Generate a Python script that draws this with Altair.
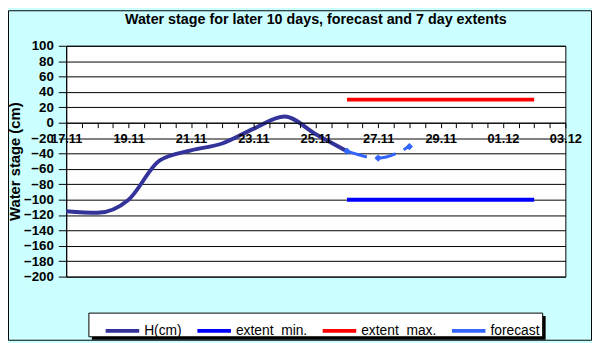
import json
import altair as alt
import pandas as pd

# ---- data ----
dates = ["17.11", "18.11", "19.11", "20.11", "21.11", "22.11", "23.11", "24.11",
         "25.11", "26.11", "27.11", "28.11", "29.11", "30.11", "01.12", "02.12", "03.12"]
h_days = ["17.11", "18.11", "19.11", "20.11", "21.11", "22.11", "23.11", "24.11", "25.11", "26.11"]
h_values = [-115, -117, -100, -49, -36, -27, -8, 8, -15, -37]
forecast_days = ["26.11", "27.11", "28.11"]
forecast_values = [-37, -46, -31]
extent_days = ["26.11", "27.11", "28.11", "29.11", "30.11", "01.12", "02.12"]
extent_min_values = [-100, -100, -100, -100, -100, -100, -100]
extent_max_values = [30, 30, 30, 30, 30, 30, 30]

series_names = ["H(cm)", "extent_min.", "extent_max.", "forecast"]
series_colors = ["#333399", "#0000ff", "#ff0000", "#3366ff"]
y_ticks = list(range(-200, 101, 20))
title_text = "Water stage for later 10 days, forecast and 7 day  extents"

FONT = "Liberation Sans"

rows = []
for d, v in zip(h_days, h_values):
    rows.append({"series": "H(cm)", "day": dates.index(d), "value": v})
for d, v in zip(extent_days, extent_min_values):
    rows.append({"series": "extent_min.", "day": dates.index(d), "value": v})
for d, v in zip(extent_days, extent_max_values):
    rows.append({"series": "extent_max.", "day": dates.index(d), "value": v})
main_df = pd.DataFrame(rows)
fc_df = pd.DataFrame({"series": "forecast",
                      "day": [dates.index(d) for d in forecast_days],
                      "value": forecast_values})

n_days = len(dates) - 1
x_tick_values = [i * 0.5 for i in range(2 * n_days + 1)]
label_expr = ("(datum.value % 2 == 0) ? " + json.dumps(dates) +
              "[datum.value] : ''")

x_enc = alt.X("day:Q",
              scale=alt.Scale(domain=[0, n_days], nice=False, zero=False),
              axis=alt.Axis(title=None, values=x_tick_values,
                            tickCount=len(x_tick_values) + 5,
                            labelExpr=label_expr, offset=-156, grid=False,
                            tickSize=5, labelPadding=5, labelFlush=False,
                            labelOverlap=False, labelBound=False, zindex=1,
                            domainColor="black", tickColor="black",
                            labelFontSize=13, labelFontWeight="bold",
                            labelColor="black", labelFont=FONT))
y_enc = alt.Y("value:Q",
              scale=alt.Scale(domain=[-200, 100], nice=False, zero=False),
              axis=alt.Axis(title="Water stage (cm)", values=y_ticks,
                            tickCount=len(y_ticks) + 5, grid=True,
                            gridColor="black", gridOpacity=1, gridWidth=1,
                            tickSize=8, labelPadding=5, domainColor="black",
                            tickColor="black", labelFontSize=13.5,
                            labelFontWeight="bold", labelColor="black",
                            labelFont=FONT, titleFont=FONT, titleFontSize=15,
                            titleFontWeight="bold", titleColor="black",
                            titlePadding=1, labelFlush=False, labelOverlap=False))

color_enc = alt.Color("series:N",
                      scale=alt.Scale(domain=series_names, range=series_colors),
                      legend=alt.Legend(title=None, orient="none", legendX=38,
                                        legendY=270, direction="horizontal",
                                        columns=4, gridAlign="none",
                                        symbolType="stroke", symbolSize=1156,
                                        symbolStrokeWidth=4, columnPadding=7,
                                        labelOffset=3, labelFontSize=14,
                                        labelFont=FONT, labelColor="black",
                                        padding=0))

# decorations (chart frame, title, legend box with shadow)
one = alt.Data(values=[{"k": 0}])
frame = alt.Chart(one).mark_rect(fillOpacity=0, stroke="black", strokeWidth=1).encode(
    x=alt.value(-58.5), x2=alt.value(532.5), y=alt.value(-35.5), y2=alt.value(298.5))
title = alt.Chart(one).mark_text(text=title_text, font=FONT, fontSize=14.5,
                                 fontWeight="bold", color="black",
                                 align="center", baseline="middle").encode(
    x=alt.value(253), y=alt.value(-26))
shadow = alt.Chart(one).mark_rect(fill="black").encode(
    x=alt.value(26), x2=alt.value(486), y=alt.value(274), y2=alt.value(298))
legbox = alt.Chart(one).mark_rect(fill="white", stroke="black", strokeWidth=1).encode(
    x=alt.value(23), x2=alt.value(483), y=alt.value(271), y2=alt.value(295))

lines = alt.Chart(main_df).mark_line(strokeWidth=4, interpolate="monotone").encode(
    x=x_enc, y=y_enc, color=color_enc, detail="series:N")
fc_line = alt.Chart(fc_df).mark_line(strokeWidth=3, interpolate="monotone",
                                     strokeDash=[21, 9]).encode(
    x="day:Q", y="value:Q", color=color_enc)
fc_pts = alt.Chart(fc_df).mark_point(shape="diamond", filled=True, size=55,
                                     color="#3366ff", opacity=1).encode(
    x="day:Q", y="value:Q")

chart = alt.layer(frame, title, shadow, legbox, lines, fc_line, fc_pts).properties(
    width=506, height=234,
    autosize=alt.AutoSizeParams(type="none"),
    padding={"left": 59, "top": 36, "right": 27, "bottom": 65},
    background="#ccffff",
).configure_view(stroke="black", fill="white")

chart.save("out.html", embed_options={"renderer": "svg", "actions": False})
